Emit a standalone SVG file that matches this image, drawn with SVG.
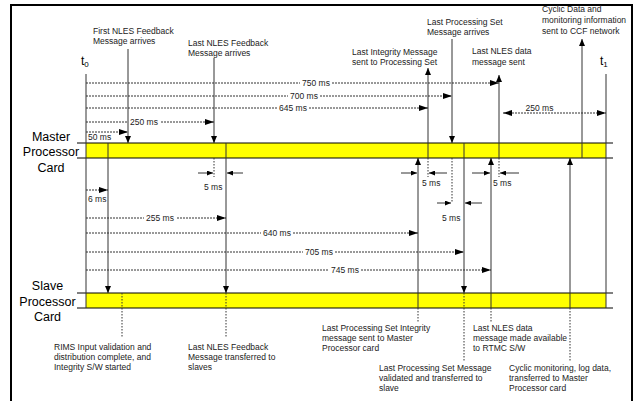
<svg xmlns="http://www.w3.org/2000/svg" width="639" height="401" viewBox="0 0 639 401">
<style>
.s{font-family:"Liberation Sans",Arial,sans-serif;font-size:8.5px;fill:#222}
.m{font-family:"Liberation Sans",Arial,sans-serif;font-size:8.5px;fill:#222;text-anchor:middle}
.l{font-family:"Liberation Sans",Arial,sans-serif;font-size:12.5px;fill:#000;text-anchor:middle}
.t{font-family:"Liberation Sans",Arial,sans-serif;font-size:12px;fill:#000}
.bar{fill:#ffff00;stroke:none}
.edge{stroke:#000;stroke-width:1;fill:none}
.v{stroke:#333;stroke-width:1;fill:none}
.d{stroke:#333;stroke-width:1;stroke-dasharray:2 1;fill:none}
.dt{stroke:#333;stroke-width:1;stroke-dasharray:1.5 1.5;fill:none}
</style>
<defs>
<marker id="ah" markerWidth="9" markerHeight="6" refX="9" refY="3" orient="auto-start-reverse" markerUnits="userSpaceOnUse"><path d="M0,0L9,3L0,6z" fill="#000"/></marker>
<marker id="av" markerWidth="7" markerHeight="6" refX="7" refY="3" orient="auto" markerUnits="userSpaceOnUse"><path d="M0,0L7,3L0,6z" fill="#000"/></marker>
<marker id="as" markerWidth="6" markerHeight="5" refX="6" refY="2.5" orient="auto" markerUnits="userSpaceOnUse"><path d="M0,0L6,2.5L0,5z" fill="#000"/></marker>
</defs>
<rect x="11" y="5" width="621" height="400" fill="#fff" stroke="#000" stroke-width="2"/>

<g id="master-card">
<rect class="bar" x="86" y="143" width="520" height="15"/>
<line class="edge" x1="77" y1="143" x2="613" y2="143"/>
<line class="edge" x1="77" y1="158" x2="613" y2="158"/>
<text class="l" x="51" y="140.5">Master</text>
<text class="l" x="51" y="156">Processor</text>
<text class="l" x="51" y="171.5">Card</text>
</g>
<g id="slave-card">
<rect class="bar" x="86" y="293" width="520" height="15"/>
<line class="edge" x1="77" y1="293" x2="613" y2="293"/>
<line class="edge" x1="77" y1="308" x2="613" y2="308"/>
<text class="l" x="47.5" y="290">Slave</text>
<text class="l" x="47.5" y="306">Processor</text>
<text class="l" x="47.5" y="321">Card</text>
</g>

<g id="time-marks">
<text class="t" x="81" y="65">t<tspan font-size="8" dy="2">0</tspan></text>
<text class="t" x="600" y="65">t<tspan font-size="8" dy="2">1</tspan></text>
</g>

<g id="labels">
<text class="s" x="93" y="34">First NLES Feedback</text>
<text class="s" x="93" y="44">Message arrives</text>
<text class="s" x="188" y="46">Last NLES Feedback</text>
<text class="s" x="188" y="56">Message arrives</text>
<text class="s" x="352" y="55">Last Integrity Message</text>
<text class="s" x="352" y="65">sent to Processing Set</text>
<text class="s" x="427" y="25">Last Processing Set</text>
<text class="s" x="427" y="35">Message arrives</text>
<text class="s" x="472" y="54">Last NLES data</text>
<text class="s" x="472" y="65">message sent</text>
<text class="s" x="542" y="12">Cyclic Data and</text>
<text class="s" x="542" y="23">monitoring information</text>
<text class="s" x="542" y="34">sent to CCF network</text>

<text class="s" x="54" y="350">RIMS Input validation and</text>
<text class="s" x="54" y="360">distribution complete, and</text>
<text class="s" x="54" y="370">Integrity S/W started</text>
<text class="s" x="188" y="350">Last NLES Feedback</text>
<text class="s" x="188" y="360">Message transferred to</text>
<text class="s" x="188" y="370">slaves</text>
<text class="s" x="322" y="331">Last Processing Set Integrity</text>
<text class="s" x="322" y="341">message sent to Master</text>
<text class="s" x="322" y="351">Processor card</text>
<text class="s" x="379" y="371">Last Processing Set Message</text>
<text class="s" x="379" y="381">validated and transferred to</text>
<text class="s" x="379" y="391">slave</text>
<text class="s" x="473" y="331">Last NLES data</text>
<text class="s" x="473" y="341">message made available</text>
<text class="s" x="473" y="351">to RTMC S/W</text>
<text class="s" x="509" y="371">Cyclic monitoring, log data,</text>
<text class="s" x="509" y="381">transferred to Master</text>
<text class="s" x="509" y="391">Processor card</text>

<text class="m" x="316" y="86">750 ms</text>
<text class="m" x="304" y="99">700 ms</text>
<text class="m" x="293" y="111">645 ms</text>
<text class="m" x="144" y="125">250 ms</text>
<text class="s" x="88" y="139.5">50 ms</text>
<text class="m" x="539.5" y="110.5">250 ms</text>
<text class="s" x="88" y="202">6 ms</text>
<text class="m" x="160" y="221">255 ms</text>
<text class="m" x="277" y="236">640 ms</text>
<text class="m" x="319" y="255">705 ms</text>
<text class="m" x="345" y="273">745 ms</text>
<text class="s" x="204" y="190">5 ms</text>
<text class="s" x="422" y="186">5 ms</text>
<text class="s" x="442" y="221">5 ms</text>
<text class="s" x="493" y="186">5 ms</text>
</g>

<g id="connectors">
<!-- time boundaries -->
<line class="v" x1="86" y1="74" x2="86" y2="308"/>
<line class="v" x1="606" y1="74" x2="606" y2="308"/>
<!-- arrivals at master -->
<line class="v" x1="128" y1="49" x2="128" y2="143" marker-end="url(#av)"/>
<line class="v" x1="214" y1="58" x2="214" y2="143" marker-end="url(#av)"/>
<line class="v" x1="452" y1="39" x2="452" y2="143" marker-end="url(#av)"/>
<!-- sent from master upward -->
<line class="v" x1="428" y1="158" x2="428" y2="68" marker-end="url(#av)"/>
<line class="v" x1="499" y1="158" x2="499" y2="75" marker-end="url(#av)"/>
<line class="v" x1="582" y1="158" x2="582" y2="39" marker-end="url(#av)"/>
<!-- master to slave -->
<line class="v" x1="108" y1="143" x2="108" y2="293" marker-end="url(#av)"/>
<line class="v" x1="226" y1="143" x2="226" y2="293" marker-end="url(#av)"/>
<line class="v" x1="464" y1="143" x2="464" y2="293" marker-end="url(#av)"/>
<!-- slave to master -->
<line class="v" x1="418" y1="308" x2="418" y2="158" marker-end="url(#av)"/>
<line class="v" x1="491" y1="308" x2="491" y2="158" marker-end="url(#av)"/>
<line class="v" x1="570" y1="308" x2="570" y2="158" marker-end="url(#av)"/>
<!-- leaders below slave -->
<line class="dt" x1="122" y1="293" x2="122" y2="337"/>
<line class="dt" x1="226" y1="293" x2="226" y2="337"/>
<line class="dt" x1="418" y1="308" x2="418" y2="322"/>
<line class="dt" x1="464" y1="293" x2="464" y2="362"/>
<line class="dt" x1="491" y1="308" x2="491" y2="322"/>
<line class="dt" x1="570" y1="308" x2="570" y2="362"/>
<!-- 5 ms markers -->
<line class="dt" x1="214" y1="158" x2="214" y2="177"/>
<line class="v" x1="198" y1="173" x2="213" y2="173" marker-end="url(#as)"/>
<line class="v" x1="243" y1="173" x2="227" y2="173" marker-end="url(#as)"/>
<line class="dt" x1="428" y1="158" x2="428" y2="177"/>
<line class="v" x1="401" y1="173" x2="417" y2="173" marker-end="url(#as)"/>
<line class="v" x1="447" y1="173" x2="429" y2="173" marker-end="url(#as)"/>
<line class="dt" x1="452" y1="158" x2="452" y2="203"/>
<line class="v" x1="437" y1="203" x2="451" y2="203" marker-end="url(#as)"/>
<line class="v" x1="482" y1="203" x2="465" y2="203" marker-end="url(#as)"/>
<line class="dt" x1="499" y1="158" x2="499" y2="177"/>
<line class="v" x1="472" y1="173" x2="490" y2="173" marker-end="url(#as)"/>
<line class="v" x1="519" y1="173" x2="500" y2="173" marker-end="url(#as)"/>
<!-- timing dashed lines -->
<line class="d" x1="86" y1="83" x2="300" y2="83"/>
<line class="d" x1="332" y1="83" x2="499" y2="83" marker-end="url(#ah)"/>
<line class="d" x1="86" y1="96" x2="288" y2="96"/>
<line class="d" x1="320" y1="96" x2="452" y2="96" marker-end="url(#ah)"/>
<line class="d" x1="86" y1="108" x2="277" y2="108"/>
<line class="d" x1="309" y1="108" x2="428" y2="108" marker-end="url(#ah)"/>
<line class="d" x1="86" y1="122" x2="128" y2="122"/>
<line class="d" x1="161" y1="122" x2="214" y2="122" marker-end="url(#ah)"/>
<line class="d" x1="86" y1="132" x2="128" y2="132" marker-end="url(#ah)"/>
<line class="d" x1="503" y1="113" x2="606" y2="113" marker-start="url(#ah)" marker-end="url(#ah)"/>
<line class="d" x1="86" y1="190" x2="108" y2="190" marker-end="url(#ah)"/>
<line class="d" x1="86" y1="218" x2="144" y2="218"/>
<line class="d" x1="177" y1="218" x2="226" y2="218" marker-end="url(#ah)"/>
<line class="d" x1="86" y1="233" x2="261" y2="233"/>
<line class="d" x1="293" y1="233" x2="418" y2="233" marker-end="url(#ah)"/>
<line class="d" x1="86" y1="252" x2="303" y2="252"/>
<line class="d" x1="335" y1="252" x2="464" y2="252" marker-end="url(#ah)"/>
<line class="d" x1="86" y1="270" x2="329" y2="270"/>
<line class="d" x1="361" y1="270" x2="491" y2="270" marker-end="url(#ah)"/>
</g>
</svg>
